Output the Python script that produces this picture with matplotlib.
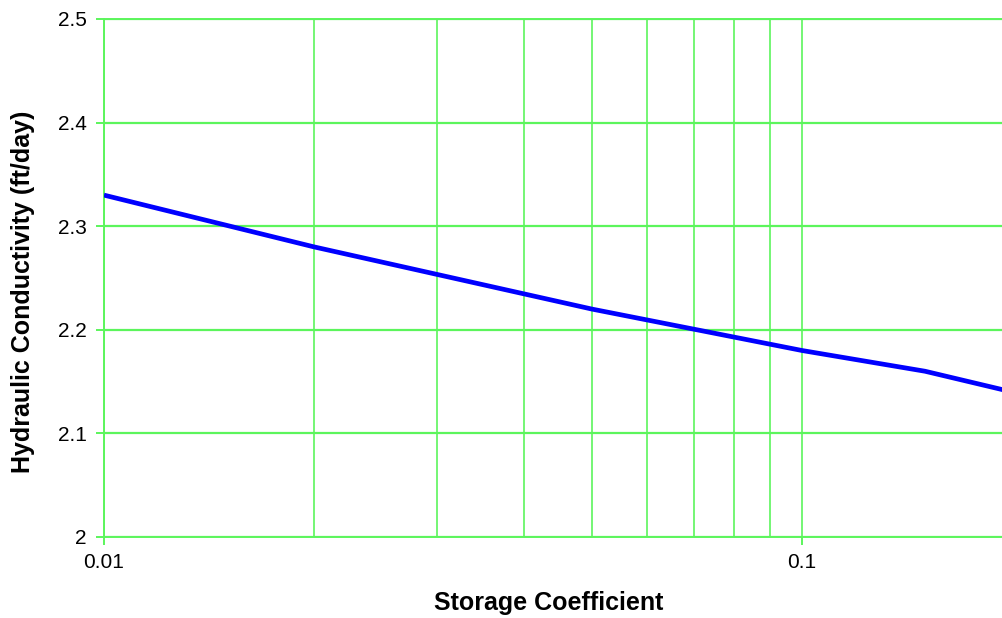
import matplotlib
matplotlib.use("Agg")
import matplotlib.pyplot as plt
from matplotlib.ticker import FixedLocator, NullFormatter

plt.rcParams['font.family'] = ['Liberation Sans', 'DejaVu Sans']

storage_coeff = [0.01, 0.02, 0.05, 0.1, 0.15, 0.2]
conductivity = [2.33, 2.28, 2.22, 2.18, 2.16, 2.14]

x_major = [0.01, 0.1]
x_major_labels = ["0.01", "0.1"]
x_minor = [0.02, 0.03, 0.04, 0.05, 0.06, 0.07, 0.08, 0.09]
y_ticks = [2.0, 2.1, 2.2, 2.3, 2.4, 2.5]
y_labels = ["2", "2.1", "2.2", "2.3", "2.4", "2.5"]

grid_green = "#5CF55C"

fig = plt.figure(figsize=(10.03, 6.18), dpi=100)
ax = fig.add_axes([104 / 1003, 1 - 537 / 618, (1003 - 104) / 1003, (537 - 19) / 618])

ax.plot(storage_coeff, conductivity, color="#0000FF", lw=3.4, solid_capstyle="butt", zorder=3)

ax.set_xscale("log")
ax.set_xlim(0.01, 0.194)
ax.set_ylim(2.0, 2.5)

ax.xaxis.set_major_locator(FixedLocator(x_major))
ax.set_xticklabels(x_major_labels)
ax.xaxis.set_minor_locator(FixedLocator(x_minor))
ax.xaxis.set_minor_formatter(NullFormatter())
ax.set_yticks(y_ticks)
ax.set_yticklabels(y_labels)

ax.grid(True, which="both", axis="x", color=grid_green, lw=1.2)
ax.grid(True, which="major", axis="y", color=grid_green, lw=1.6)
ax.set_axisbelow(True)

ax.tick_params(axis="both", which="major", color=grid_green, length=5.5, width=1.4,
               labelsize=15)
ax.tick_params(axis="y", which="major", pad=7)
ax.tick_params(axis="x", which="major", pad=6)
ax.tick_params(axis="x", which="minor", length=0)

for name, sp in ax.spines.items():
    if name == "right":
        sp.set_visible(False)
    else:
        sp.set_color(grid_green)
        sp.set_linewidth(1.4)

ax.set_xlabel("Storage Coefficient", fontsize=18, fontweight="bold")
ax.set_ylabel("Hydraulic Conductivity (ft/day)", fontsize=18, fontweight="bold")
ax.xaxis.set_label_coords(0.4945, -0.104)
ax.yaxis.set_label_coords(-0.077, 0.473)

fig.savefig("out.png", dpi=100)
